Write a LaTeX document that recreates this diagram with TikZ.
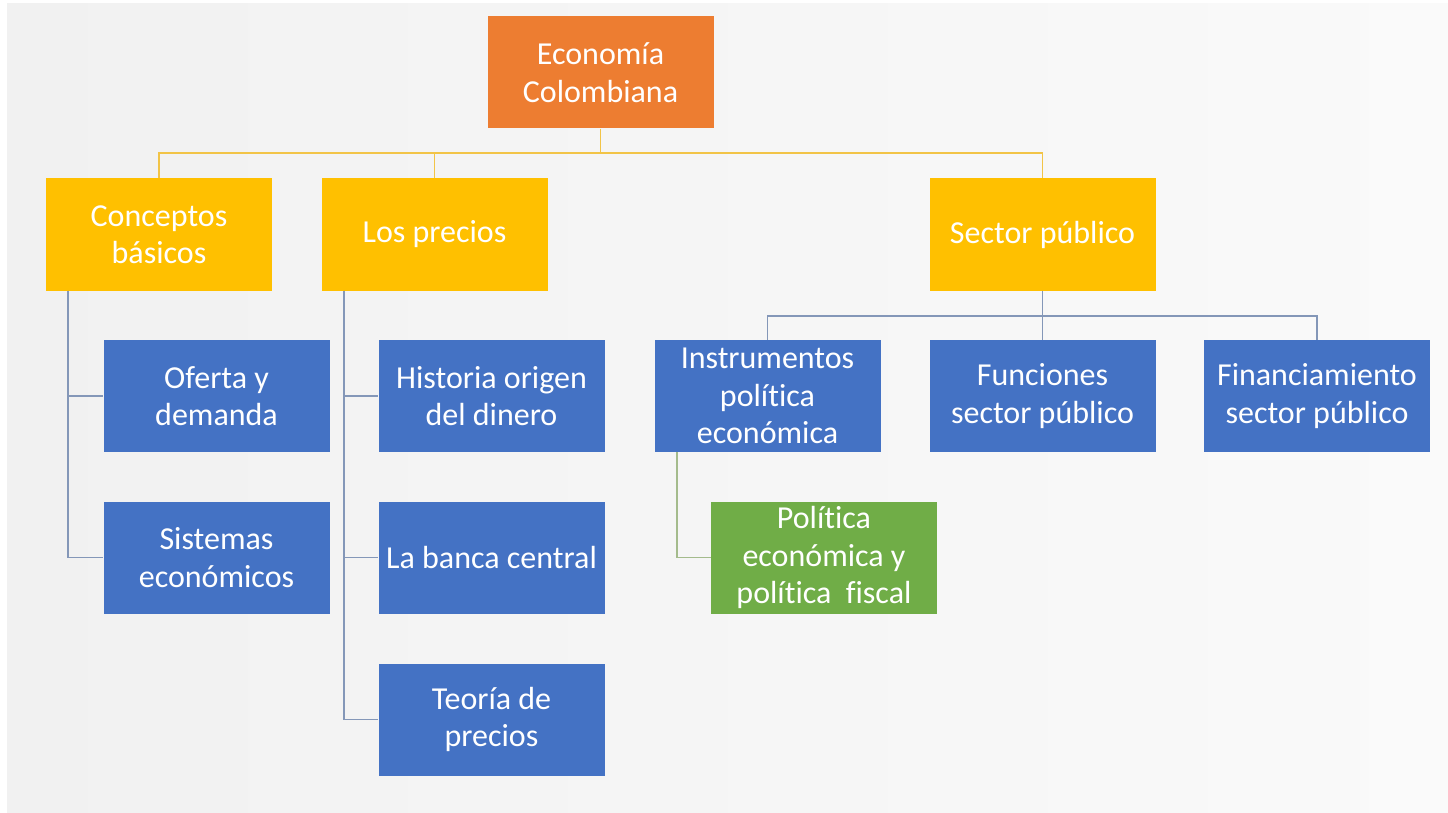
\documentclass[tikz,border=0pt]{standalone}
\usepackage{fontspec}
\setmainfont{Carlito}[Ligatures={NoCommon}]
\definecolor{cOrange}{HTML}{ED7D31}
\definecolor{cYellow}{HTML}{FFC000}
\definecolor{cBlue}{HTML}{4472C4}
\definecolor{cGreen}{HTML}{70AD47}
\definecolor{lBlue}{HTML}{8497B8}
\definecolor{lYellow}{HTML}{F2C447}
\definecolor{lGreen}{HTML}{A4BB8C}
\definecolor{bgL}{HTML}{F1F1F1}
\definecolor{bgR}{HTML}{FAFAFA}
\begin{document}
\begin{tikzpicture}[x=1pt,y=-1pt,
  box/.style={rectangle, minimum width=226pt, minimum height=112pt, inner sep=2pt,
    align=center, text=white, font=\fontsize{32}{37.5}\selectfont},
  orangebox/.style={box, fill=cOrange},
  yellowbox/.style={box, fill=cYellow},
  bluebox/.style={box, fill=cBlue},
  greenbox/.style={box, fill=cGreen},
  yline/.style={draw=lYellow, line width=1.5pt},
  bline/.style={draw=lBlue, line width=1.5pt},
  gline/.style={draw=lGreen, line width=1.5pt}]
\useasboundingbox (0,0) rectangle (1448,813);
\fill[white] (0,0) rectangle (1448,813);
\shade[left color=bgL, right color=bgR] (7,4) rectangle (1448,813);

\node[orangebox] (eco) at (600.5,72.5) {Economía\\Colombiana};
\node[yellowbox] (cb) at (159,234.5) {Conceptos\\básicos};
\node[yellowbox] (lp) at (434.5,234.5) {Los precios};
\node[yellowbox] (sp) at (1042.5,234.5) {Sector público};
\node[bluebox] (od) at (216.5,396) {Oferta y\\demanda};
\node[bluebox] (se) at (216.5,557.5) {Sistemas\\económicos};
\node[bluebox] (ho) at (491.5,396) {Historia origen\\del dinero};
\node[bluebox] (bc) at (491.5,557.5) {La banca central};
\node[bluebox] (tp) at (491.5,719.5) {Teoría de\\precios};
\node[bluebox] (ip) at (767.5,396) {Instrumentos\\política\\económica};
\node[bluebox] (fs) at (1042.5,396) {Funciones\\sector público};
\node[bluebox] (fin) at (1317,396) {Financiamiento\\sector público};
\node[greenbox] (pe) at (824,557.5) {Política\\económica y\\política\ \ fiscal};

\coordinate (jun) at (600.5,153);
\draw[yline] (eco.south) -- (jun);
\draw[yline] (jun) -| (cb.north);
\draw[yline] (jun) -| (lp.north);
\draw[yline] (jun) -| (sp.north);

\draw[bline] ([xshift=-91pt]cb.south) |- (od.west);
\draw[bline] ([xshift=-91pt]cb.south) |- (se.west);

\draw[bline] ([xshift=-90.5pt]lp.south) |- (ho.west);
\draw[bline] ([xshift=-90.5pt]lp.south) |- (bc.west);
\draw[bline] ([xshift=-90.5pt]lp.south) |- (tp.west);

\coordinate (sj) at (1042.5,316);
\draw[bline] (sp.south) -- (sj);
\draw[bline] (sj) -| (ip.north);
\draw[bline] (sj) -| (fs.north);
\draw[bline] (sj) -| (fin.north);

\draw[gline] ([xshift=-90.5pt]ip.south) |- (pe.west);
\end{tikzpicture}
\end{document}
